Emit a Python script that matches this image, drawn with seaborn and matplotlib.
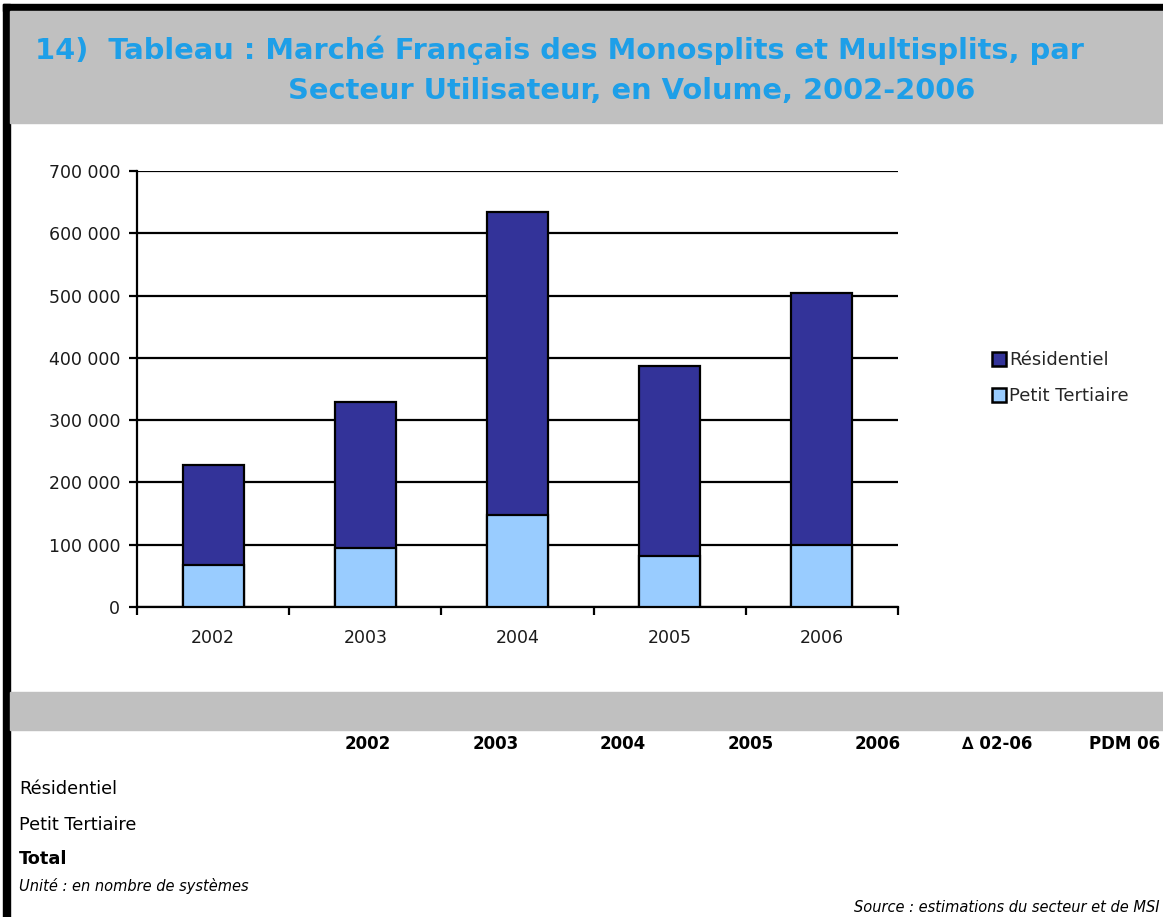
import matplotlib
matplotlib.use("Agg")
import matplotlib.pyplot as plt
import matplotlib.patches as mpatches
from matplotlib.ticker import FuncFormatter, FixedLocator
import seaborn as sns
import pandas as pd
import numpy as np

years = ["2002", "2003", "2004", "2005", "2006"]
residentiel = [160000, 234000, 486000, 305000, 404000]
petit_tertiaire = [68000, 95000, 148000, 82000, 100000]
series_names = ["Résidentiel", "Petit Tertiaire"]
table_cols = ["2002", "2003", "2004", "2005", "2006", "\u2206 02-06", "PDM 06"]
row_labels = ["Résidentiel", "Petit Tertiaire", "Total"]

title_lines = ["14)  Tableau : Marché Français des Monosplits et Multisplits, par",
               "Secteur Utilisateur, en Volume, 2002-2006"]

sns.set_theme(style="white")
plt.rcParams['font.family'] = ['DejaVu Sans']

W, H = 1163, 917
fig = plt.figure(figsize=(W / 100, H / 100), dpi=100)
fig.patch.set_facecolor("white")

def fx(px):
    return px / W

def fy(py):
    return 1 - py / H

# Frame and grey bands
fig.add_artist(mpatches.Rectangle((fx(3), fy(11)), 1, 7 / H, transform=fig.transFigure,
                                  color="black", zorder=0))
fig.add_artist(mpatches.Rectangle((fx(3), 0), 7 / W, fy(4), transform=fig.transFigure,
                                  color="black", zorder=0))
fig.add_artist(mpatches.Rectangle((fx(10), fy(123)), 1, 112 / H, transform=fig.transFigure,
                                  color="#C0C0C0", zorder=0))
fig.add_artist(mpatches.Rectangle((fx(10), fy(730)), 1, 38 / H, transform=fig.transFigure,
                                  color="#C0C0C0", zorder=0))

title_color = "#1E9FE8"
fig.text(fx(35), fy(50), title_lines[0], fontsize=20.8, fontweight="bold", color=title_color,
         ha="left", va="center")
fig.text(fx(975), fy(91), title_lines[1], fontsize=20.8, fontweight="bold", color=title_color,
         ha="right", va="center")

# Chart
ax = fig.add_axes([fx(137), fy(607), fx(898) - fx(137), (607 - 171) / H])
df = pd.DataFrame({"year": years, "res": residentiel, "pt": petit_tertiaire})
df["total"] = df["res"] + df["pt"]

c_res = "#333399"
c_pt = "#99CCFF"
sns.barplot(data=df, x="year", y="total", color=c_res, width=0.40, edgecolor="black",
            linewidth=1.6, saturation=1, ax=ax, zorder=3)
sns.barplot(data=df, x="year", y="pt", color=c_pt, width=0.40, edgecolor="black",
            linewidth=1.6, saturation=1, ax=ax, zorder=4)

ax.set_xlim(-0.5, 4.5)
ax.set_ylim(0, 700000)
ax.set_yticks(np.arange(0, 700001, 100000))
ax.yaxis.set_major_formatter(FuncFormatter(lambda v, p: f"{int(v):,}".replace(",", " ")))
ax.grid(axis="y", color="black", linewidth=1.6, zorder=0)
ax.set_axisbelow(True)
ax.set_xlabel("")
ax.set_ylabel("")
for s in ["top", "right"]:
    ax.spines[s].set_visible(False)
for s in ["left", "bottom"]:
    ax.spines[s].set_color("black")
    ax.spines[s].set_linewidth(1.6)
ax.tick_params(axis="y", which="major", direction="out", length=6, width=1.6, color="black",
               labelsize=12.5, pad=6, left=True)
ax.tick_params(axis="x", which="major", length=0, labelsize=12.5, pad=16)
ax.xaxis.set_minor_locator(FixedLocator(np.arange(-0.5, 4.51, 1)))
ax.tick_params(axis="x", which="minor", direction="out", length=6, width=1.6, color="black",
               bottom=True)
for lbl in ax.get_xticklabels() + ax.get_yticklabels():
    lbl.set_color("#1a1a1a")

handles = [mpatches.Patch(facecolor=c_res, edgecolor="black", linewidth=1.8, label=series_names[0]),
           mpatches.Patch(facecolor=c_pt, edgecolor="black", linewidth=1.8, label=series_names[1])]
fig.legend(handles=handles, loc="center left", bbox_to_anchor=(fx(992), fy(378)), frameon=False,
           fontsize=13, handlelength=0.8, handleheight=0.8, handletextpad=0.15,
           labelspacing=1.0, borderpad=0, borderaxespad=0)

# Table-like text
col_right = [391, 519, 646, 774, 901, 1032, 1160]
for x, t in zip(col_right, table_cols):
    fig.text(fx(x), fy(744), t, fontsize=12, fontweight="bold", ha="right", va="center",
             color="black")
row_y = [789, 825, 859]
for y, t in zip(row_y, row_labels):
    fig.text(fx(19), fy(y), t, fontsize=12.8, ha="left", va="center",
             fontweight="bold" if t == "Total" else "normal", color="black")
fig.text(fx(19), fy(886), "Unité : en nombre de systèmes", fontsize=10.5, style="italic",
         ha="left", va="center", color="black")
fig.text(fx(1160), fy(908), "Source : estimations du secteur et de MSI", fontsize=10.5,
         style="italic", ha="right", va="center", color="black")

fig.savefig("out.png", dpi=100, facecolor=fig.get_facecolor())
